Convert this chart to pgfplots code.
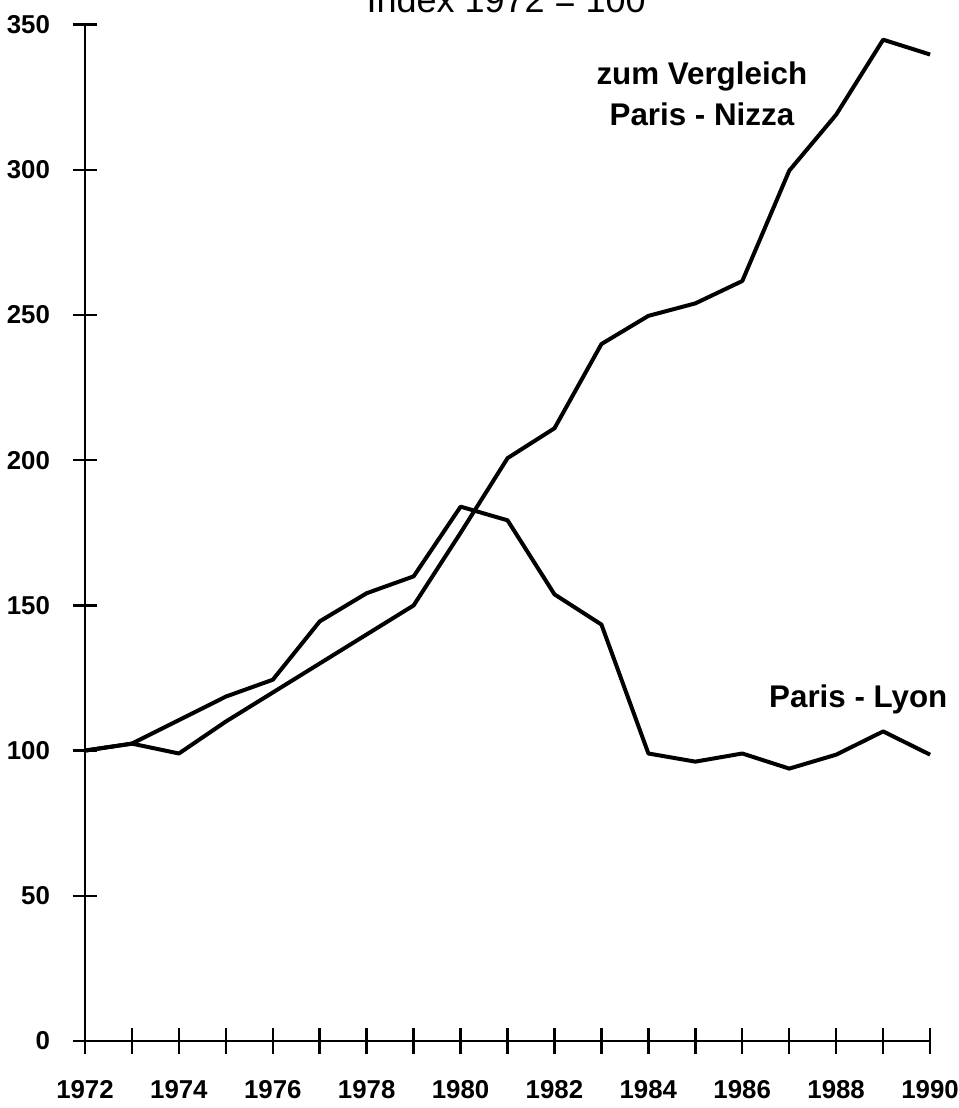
\documentclass[border=0pt]{standalone}
\usepackage{fontspec}
\setmainfont{Liberation Sans}
\usepackage{pgfplots}
\pgfplotsset{compat=1.18}
\usetikzlibrary{calc}

% Index 1972 = 100
\pgfplotstableread{
year  lyon   nizza
1972  100.0  100.0
1973  102.4  102.4
1974  110.5   99.0
1975  118.6  110.0
1976  124.4  120.0
1977  144.5  130.0
1978  154.2  140.0
1979  160.0  150.0
1980  184.0  175.0
1981  179.3  200.7
1982  153.8  211.0
1983  143.4  240.0
1984   99.0  249.7
1985   96.2  254.0
1986   99.0  261.7
1987   93.8  299.7
1988   98.6  319.0
1989  106.6  344.8
1990   98.6  339.7
}\routes

\begin{document}
\begin{tikzpicture}
\begin{axis}[
    x=28.17pt, y=1.7424pt,
    xmin=1972, xmax=1990, ymin=0, ymax=350,
    axis x line=bottom, axis y line=left,
    axis line style={-, line width=1.5pt},
    xtick={1972,...,1990},
    xticklabels={1972,,1974,,1976,,1978,,1980,,1982,,1984,,1986,,1988,,1990},
    ytick={0,50,...,350},
    tick align=center, major tick length=15pt,
    tick style={line width=1.5pt, black},
    ticklabel style={font=\fontsize{15.5}{16}\selectfont\bfseries},
    xticklabel style={yshift=-12.5pt},
    yticklabel style={anchor=east, xshift=-10pt},
    /pgf/number format/assume math mode=true,
    clip=false,
]
\addplot[black, line width=2.4pt, line join=round] table[x=year, y=lyon] {\routes};
\addplot[black, line width=2.4pt, line join=round] table[x=year, y=nizza] {\routes};

\node[anchor=base, font=\fontsize{21.6}{24}\selectfont] at (axis cs:1980.97,354.3) {Index 1972 = 100};
\node[anchor=base, font=\fontsize{18.8}{20}\selectfont\bfseries] at (axis cs:1985.14,329.5) {zum Vergleich};
\node[anchor=base, font=\fontsize{18.8}{20}\selectfont\bfseries] at (axis cs:1985.14,315.4) {Paris - Nizza};
\node[anchor=base, font=\fontsize{18.8}{20}\selectfont\bfseries] at (axis cs:1988.47,115) {Paris - Lyon};

\coordinate (O) at (axis cs:1972,0);
\end{axis}
\pgfresetboundingbox
\path[use as bounding box] ($(O)+(-51pt,-40.2pt)$) rectangle ($(O)+(524.4pt,624.6pt)$);
\end{tikzpicture}
\end{document}
